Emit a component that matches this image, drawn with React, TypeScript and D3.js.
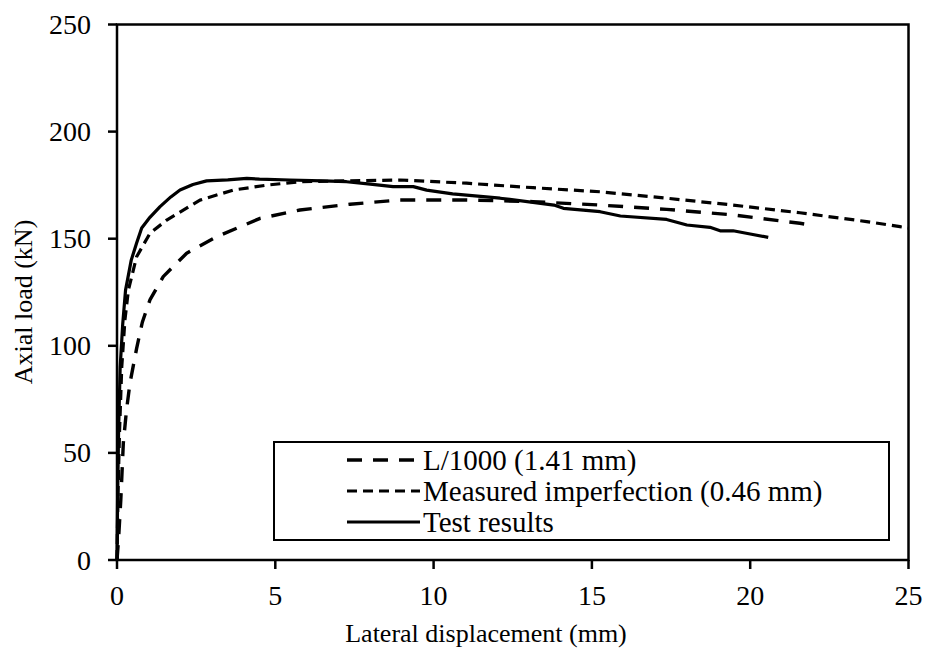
import React from "react";
import * as d3 from "d3";

const xTicks = [0, 5, 10, 15, 20, 25];
const yTicks = [0, 50, 100, 150, 200, 250];

const l1000X = [0, 0.05, 0.12, 0.2, 0.3, 0.41, 0.62, 0.8, 1.04, 1.46, 2.2, 3.15, 4.52, 5.78, 7.36, 8.94, 11.04, 13.14, 15.26, 17.36, 19.46, 21.57, 21.9];
const l1000Y = [0, 10, 28, 54.6, 70, 82.6, 98.8, 111, 121.4, 132.3, 143.2, 150.9, 159.5, 163.4, 166.1, 168.1, 168.1, 167.3, 165.7, 163.7, 161.1, 157.2, 156.4];

const measX = [0, 0.03, 0.08, 0.15, 0.25, 0.36, 0.62, 1.04, 1.57, 2.62, 3.67, 4.73, 5.78, 8.94, 11.04, 13.14, 15.26, 17.36, 19.46, 21.57, 23.68, 24.73, 25];
const measY = [0, 30, 60, 90, 112, 126, 141.6, 152.5, 158.7, 168, 172.7, 175, 176.6, 177.4, 175.9, 173.8, 171.9, 168.9, 165.7, 162.1, 158, 155.6, 155];

const testX = [0, 0.02, 0.05, 0.1, 0.18, 0.27, 0.45, 0.62, 0.78, 1.04, 1.36, 1.7, 1.99, 2.4, 2.83, 3.5, 4.1, 4.5, 5.46, 6.5, 7.25, 8, 8.72, 9.36, 9.78, 10.6, 12.1, 13.8, 14.1, 15.26, 15.9, 17.36, 18.0, 18.73, 19.05, 19.46, 20.0, 20.57];
const testY = [0, 30, 60, 90, 110, 126, 140, 148, 155, 160, 165, 169.5, 172.7, 175.3, 177, 177.5, 178.2, 177.8, 177.4, 177, 176.6, 175.5, 174.3, 174.3, 172.7, 170.9, 168.9, 165.7, 164.2, 162.6, 160.6, 159, 156.4, 155.3, 153.7, 153.7, 152.2, 150.6];

const seriesNames = ["L/1000 (1.41 mm)", "Measured imperfection (0.46 mm)", "Test results"];

export default function App() {
  const W = 925, H = 653;
  const x = d3.scaleLinear().domain([0, 25]).range([117, 908.5]);
  const y = d3.scaleLinear().domain([0, 250]).range([560, 24.5]);
  const line = d3.line<[number, number]>().x(d => x(d[0])).y(d => y(d[1]));
  const mk = (xs: number[], ys: number[]) => xs.map((v, i) => [v, ys[i]] as [number, number]);
  const series = [
    { pts: mk(l1000X, l1000Y), dash: "15,11", w: 3.4 },
    { pts: mk(measX, measY), dash: "10,6", w: 3.2 },
    { pts: mk(testX, testY), dash: null, w: 3.2 },
  ];
  const font = "'Liberation Serif', 'Times New Roman', serif";
  const legTop = 442, legRow = 31;
  return (
    <svg width={W} height={H} style={{ position: "fixed", left: 0, top: 0, background: "#fff" }} fontFamily={font}>
      <rect x={0} y={0} width={W} height={H} fill="#fff" />
      {series.map((s, i) => (
        <path key={i} d={line(s.pts) || ""} fill="none" stroke="#000" strokeWidth={s.w}
          strokeDasharray={s.dash || undefined} strokeLinejoin="round" />
      ))}
      <rect x={x(0)} y={y(250)} width={x(25) - x(0)} height={y(0) - y(250)} fill="none" stroke="#000" strokeWidth={2.5} />
      {xTicks.map(t => (
        <g key={t}>
          <line x1={x(t)} x2={x(t)} y1={y(0)} y2={y(0) + 9} stroke="#000" strokeWidth={2.5} />
          <text x={x(t)} y={605} textAnchor="middle" fontSize={28}>{t}</text>
        </g>
      ))}
      {yTicks.map(t => (
        <g key={t}>
          <line x1={x(0) - 9} x2={x(0)} y1={y(t)} y2={y(t)} stroke="#000" strokeWidth={2.5} />
          <text x={91} y={y(t) + 9.5} textAnchor="end" fontSize={28}>{t}</text>
        </g>
      ))}
      <text x={486} y={642} textAnchor="middle" fontSize={26}>Lateral displacement (mm)</text>
      <text transform="translate(32,302) rotate(-90)" textAnchor="middle" fontSize={26}>Axial load (kN)</text>
      <rect x={274} y={legTop} width={615} height={98} fill="#fff" stroke="#000" strokeWidth={2} />
      {seriesNames.map((n, i) => {
        const cy = legTop + 18 + i * legRow;
        return (
          <g key={n}>
            <line x1={347} x2={420} y1={cy} y2={cy} stroke="#000" strokeWidth={series[i].w}
              strokeDasharray={series[i].dash || undefined} />
            <text x={423} y={cy + 10} fontSize={29}>{n}</text>
          </g>
        );
      })}
    </svg>
  );
}
